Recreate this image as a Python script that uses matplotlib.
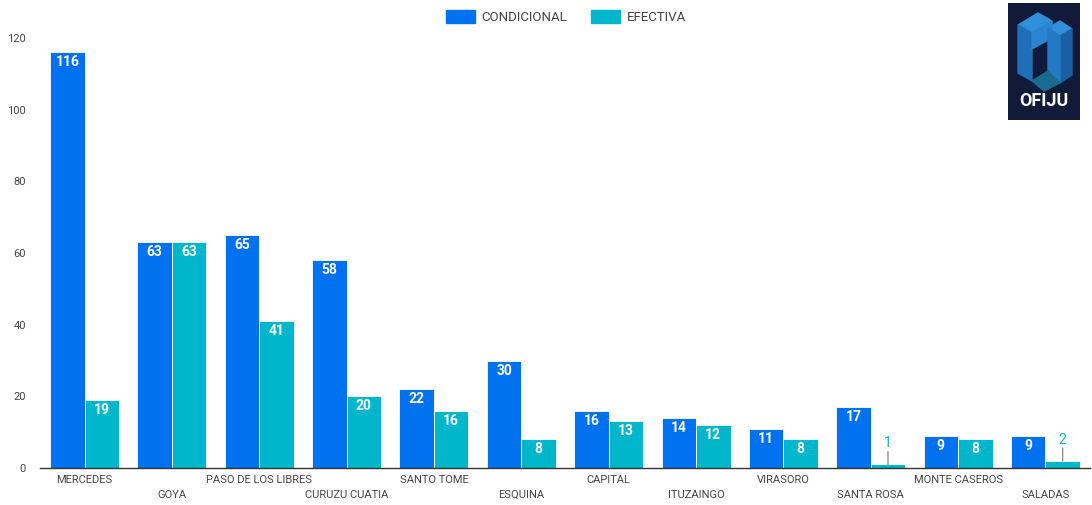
import matplotlib
matplotlib.use("Agg")
import matplotlib.pyplot as plt
import numpy as np
from matplotlib.patches import Polygon, Patch

categories = ["MERCEDES", "GOYA", "PASO DE LOS LIBRES", "CURUZU CUATIA", "SANTO TOME",
              "ESQUINA", "CAPITAL", "ITUZAINGO", "VIRASORO", "SANTA ROSA",
              "MONTE CASEROS", "SALADAS"]
condicional = [116, 63, 65, 58, 22, 30, 16, 14, 11, 17, 9, 9]
efectiva = [19, 63, 41, 20, 16, 8, 13, 12, 8, 1, 8, 2]
yticks = [0, 20, 40, 60, 80, 100, 120]

C1 = "#0072f0"
C2 = "#00b6cb"

plt.rcParams['font.family'] = ['Roboto', 'DejaVu Sans']

fig = plt.figure(figsize=(10.92, 5.05), dpi=100)
ax = fig.add_axes([40/1092, 1-468/505, 1050/1092, 430/505])

x = np.arange(len(categories))
w = 0.395
b1 = ax.bar(x - w/2, condicional, w, color=C1, edgecolor="white", linewidth=0.6, zorder=2)
b2 = ax.bar(x + w/2, efectiva, w, color=C2, edgecolor="white", linewidth=0.6, zorder=2)

ax.set_xlim(-0.51, len(categories) - 0.49)
ax.set_ylim(0, 120)
ax.set_yticks(yticks)
ax.set_yticklabels([str(t) for t in yticks], fontsize=8, color="#444444")
ax.tick_params(axis="y", length=0, pad=10)
ax.set_xticks(x)
ax.set_xticklabels(["" for _ in categories])
ax.tick_params(axis="x", length=0)
for i, c in enumerate(categories):
    yoff = -12 if i % 2 == 0 else -27
    ax.annotate(c, (i, 0), xytext=(0, yoff), textcoords="offset pixels",
                ha="center", va="center", fontsize=8, color="#444444")

for s in ["top", "right", "left"]:
    ax.spines[s].set_visible(False)
ax.spines["bottom"].set_color("#333333")
ax.spines["bottom"].set_linewidth(1)
ax.spines["bottom"].set_zorder(3)

def label(bars, vals, col):
    for rect, v in zip(bars, vals):
        cx = rect.get_x() + rect.get_width()/2
        if v >= 5:
            ax.annotate(str(v), (cx, v), xytext=(0, -10), textcoords="offset pixels",
                        ha="center", va="center", fontsize=10, fontweight="semibold", color="white", zorder=4)
        else:
            ax.annotate(str(v), (cx, v), xytext=(0, 21), textcoords="offset pixels",
                        ha="center", va="center", fontsize=10, color=col, zorder=4)
            ax.annotate("", (cx, v), xytext=(0, 13), textcoords="offset pixels",
                        arrowprops=dict(arrowstyle="-", color="#777777", lw=0.8,
                                        shrinkA=0, shrinkB=0), zorder=4)

label(b1, condicional, C1)
label(b2, efectiva, C2)

handles = [Patch(color=C1, label="CONDICIONAL"), Patch(color=C2, label="EFECTIVA")]
fig.legend(handles=handles, loc="center", bbox_to_anchor=(566/1092, 1-17/505), ncol=2,
           frameon=False, fontsize=9.5, handlelength=2.2, handleheight=1.2, columnspacing=1.8,
           handletextpad=0.5, labelcolor="#444444")

# Logo
lax = fig.add_axes([1008/1092, 1-120/505, 72/1092, 117/505])
lax.set_xlim(0, 72)
lax.set_ylim(117, 0)
lax.set_facecolor("#111a38")
lax.set_xticks([]); lax.set_yticks([])
for s in lax.spines.values():
    s.set_visible(False)
# top faces
lax.add_patch(Polygon([(10, 22), (30, 10), (44, 18), (24, 30)], closed=True, color="#2f8fd8"))
lax.add_patch(Polygon([(40, 25), (52, 18), (64, 26), (52, 33)], closed=True, color="#2f8fd8"))
# left column
lax.add_patch(Polygon([(10, 22), (24, 30), (24, 78), (10, 70)], closed=True, color="#1f6fb8"))
lax.add_patch(Polygon([(24, 30), (44, 18), (44, 35), (24, 46)], closed=True, color="#2a84cf"))
# right column
lax.add_patch(Polygon([(52, 33), (64, 26), (64, 72), (52, 80)], closed=True, color="#1a5fa3"))
lax.add_patch(Polygon([(40, 25), (52, 33), (52, 80), (40, 72)], closed=True, color="#2479c4"))
# bottom face
lax.add_patch(Polygon([(24, 78), (40, 68), (52, 80), (36, 88)], closed=True, color="#1b6a8f"))
lax.text(36, 98, "OFIJU", color="white", fontsize=13, fontweight="bold",
         ha="center", va="center", family=["Roboto", "DejaVu Sans"])

fig.savefig("out.png", dpi=100)
